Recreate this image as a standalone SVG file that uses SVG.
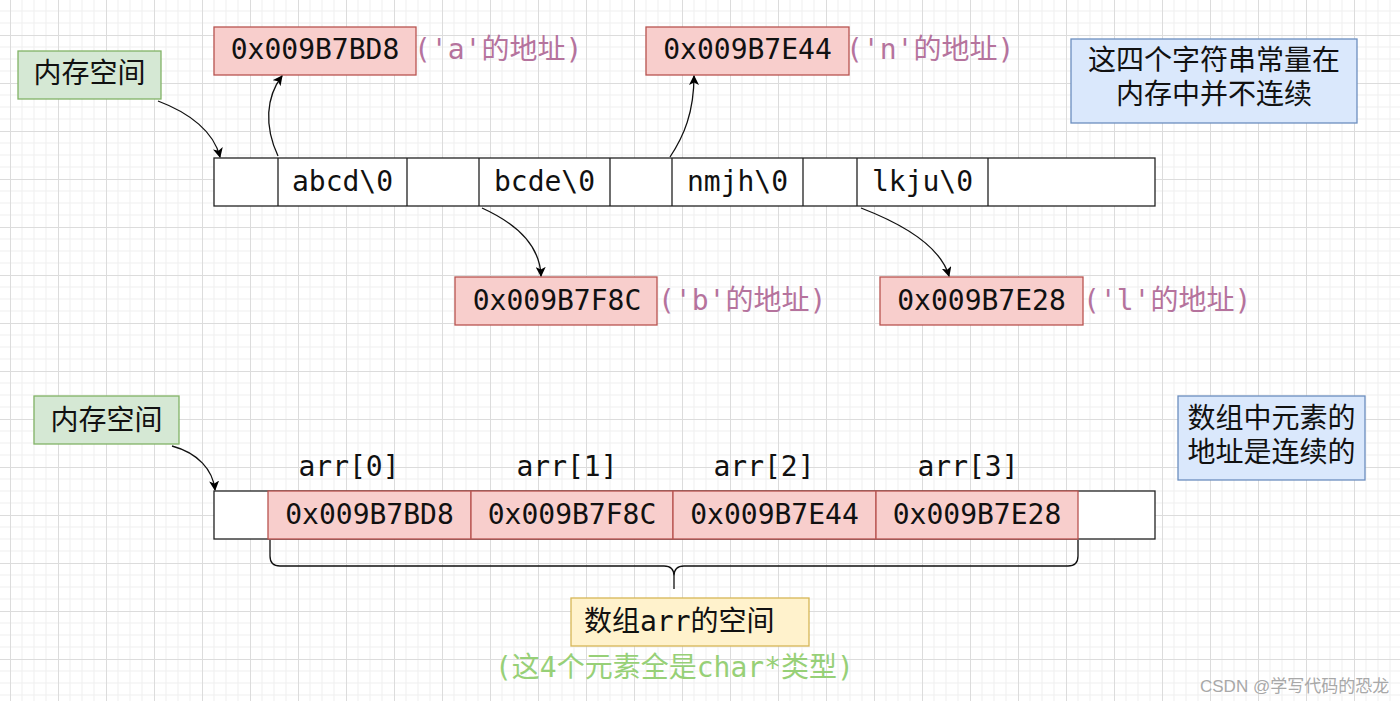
<svg xmlns="http://www.w3.org/2000/svg" width="1400" height="701" viewBox="0 0 1400 701">
<defs>
<pattern id="grid" x="10" y="35" width="48" height="48" patternUnits="userSpaceOnUse">
<path d="M12,0V48M24,0V48M36,0V48M0,12H48M0,24H48M0,36H48" stroke="#efefef" stroke-width="1" fill="none"/>
<path d="M0.5,0V48M0,0.5H48" stroke="#dcdcdc" stroke-width="1" fill="none"/>
</pattern>
<marker id="arr" viewBox="0 0 10 10" refX="9" refY="5" markerWidth="10" markerHeight="10" markerUnits="userSpaceOnUse" orient="auto">
<path d="M0,0L10,5L0,10L2.5,5Z" fill="#000"/>
</marker>
<style>
.red{fill:#f8cecc;stroke:#b85450;stroke-width:1.3}
.green{fill:#d5e8d4;stroke:#82b366;stroke-width:1.3}
.blue{fill:#dae8fc;stroke:#6c8ebf;stroke-width:1.3}
.yellow{fill:#fff2cc;stroke:#d6b656;stroke-width:1.3}
.cell{fill:#fff;stroke:#222;stroke-width:1.3}
.mono{font-family:"DejaVu Sans Mono","Noto Sans CJK SC",monospace;font-size:28px;fill:#111}
.cjk{font-family:"Noto Sans CJK SC","Noto Sans",sans-serif;font-size:28px;fill:#111}
.purple{fill:#b5739d}
.gtxt{fill:#97d077}
.mid{text-anchor:middle}
.conn{fill:none;stroke:#111;stroke-width:1.3}
</style>
</defs>
<rect width="1400" height="701" fill="#fff"/>
<rect width="1400" height="701" fill="url(#grid)"/>

<g id="mem-label-1">
<rect class="green" x="18" y="51" width="143" height="48"/>
<text class="cjk mid" x="89.5" y="83">内存空间</text>
</g>

<g id="addr-a">
<rect class="red" x="214" y="27" width="202" height="48"/>
<text class="mono mid" x="315" y="59">0x009B7BD8</text>
<text class="mono purple" x="414" y="59">('a'的地址)</text>
</g>

<g id="addr-n">
<rect class="red" x="646" y="27" width="203" height="48"/>
<text class="mono mid" x="747.5" y="59">0x009B7E44</text>
<text class="mono purple" x="846" y="59">('n'的地址)</text>
</g>

<g id="note-1">
<rect class="blue" x="1071" y="39" width="286" height="84"/>
<text class="cjk mid"><tspan x="1214" y="70">这四个字符串常量在</tspan><tspan x="1214" y="104">内存中并不连续</tspan></text>
</g>

<g id="memory-row">
<rect class="cell" x="214" y="158" width="941" height="48"/>
<path d="M278,158V206M407,158V206M479,158V206M610,158V206M672,158V206M803,158V206M857,158V206M988,158V206" stroke="#222" stroke-width="1.3"/>
<text class="mono mid" x="342.5" y="191">abcd\0</text>
<text class="mono mid" x="544.5" y="191">bcde\0</text>
<text class="mono mid" x="737.5" y="191">nmjh\0</text>
<text class="mono mid" x="922.5" y="191">lkju\0</text>
</g>

<g id="addr-b">
<rect class="red" x="455" y="277" width="202" height="48"/>
<text class="mono mid" x="557" y="310">0x009B7F8C</text>
<text class="mono purple" x="658" y="310">('b'的地址)</text>
</g>

<g id="addr-l">
<rect class="red" x="880" y="277" width="203" height="48"/>
<text class="mono mid" x="981.5" y="310">0x009B7E28</text>
<text class="mono purple" x="1083" y="310">('l'的地址)</text>
</g>

<g id="mem-label-2">
<rect class="green" x="34" y="396" width="145" height="48"/>
<text class="cjk mid" x="106.5" y="430">内存空间</text>
</g>

<g id="note-2">
<rect class="blue" x="1178" y="396" width="187" height="84"/>
<text class="cjk mid"><tspan x="1271.5" y="428">数组中元素的</tspan><tspan x="1271.5" y="462">地址是连续的</tspan></text>
</g>

<g id="array-labels">
<text class="mono mid" x="349" y="476">arr[0]</text>
<text class="mono mid" x="567" y="476">arr[1]</text>
<text class="mono mid" x="764" y="476">arr[2]</text>
<text class="mono mid" x="968" y="476">arr[3]</text>
</g>

<g id="array-row">
<rect class="cell" x="214" y="491" width="941" height="48"/>
<rect class="red" x="268" y="491" width="203" height="48"/>
<rect class="red" x="471" y="491" width="202" height="48"/>
<rect class="red" x="673" y="491" width="203" height="48"/>
<rect class="red" x="876" y="491" width="202" height="48"/>
<text class="mono mid" x="369.5" y="524">0x009B7BD8</text>
<text class="mono mid" x="572" y="524">0x009B7F8C</text>
<text class="mono mid" x="774.5" y="524">0x009B7E44</text>
<text class="mono mid" x="977" y="524">0x009B7E28</text>
</g>

<g id="arr-space">
<rect class="yellow" x="571" y="598" width="238" height="48"/>
<text class="mono" x="584" y="631">数组arr的空间</text>
</g>

<g id="type-note">
<text class="mono gtxt" x="495" y="677">(这4个元素全是char*类型)</text>
</g>

<g id="connectors">
<path class="conn" d="M158,101 C190,113 214,132 220,157" marker-end="url(#arr)"/>
<path class="conn" d="M278,156 C264,126 266,97 282,76" marker-end="url(#arr)"/>
<path class="conn" d="M670,157 C684,136 694,112 694,76" marker-end="url(#arr)"/>
<path class="conn" d="M482,208 C515,223 540,245 541,276" marker-end="url(#arr)"/>
<path class="conn" d="M861,208 C900,223 940,245 949,276" marker-end="url(#arr)"/>
<path class="conn" d="M172,446 C198,453 213,470 215,490" marker-end="url(#arr)"/>
<path class="conn" d="M270,540 V556 Q270,566 280,566 H664 Q674,566 674,576 V589 M674,576 Q674,566 684,566 H1068 Q1078,566 1078,556 V540"/>
</g>

<text x="1200" y="692" font-family="Liberation Sans,'Noto Sans CJK SC',sans-serif" font-size="17" fill="#a8a8a8">CSDN @学写代码的恐龙</text>
</svg>
